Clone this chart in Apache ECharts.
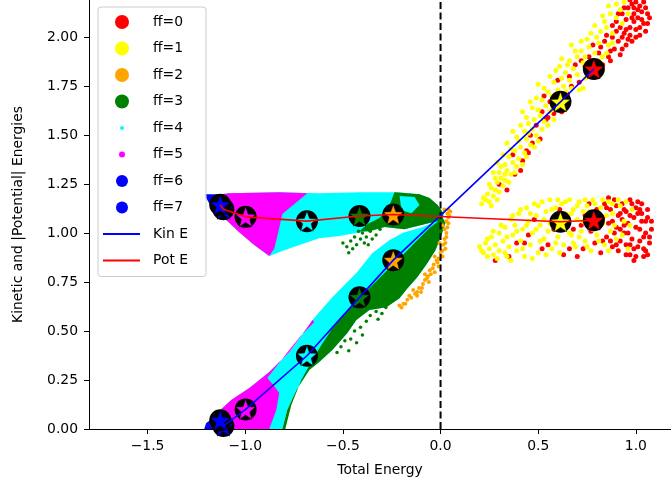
<!DOCTYPE html>
<html>
<head>
<meta charset="utf-8">
<script src="https://cdn.jsdelivr.net/npm/echarts@6/dist/echarts.min.js"></script>
<style>
  html, body { margin: 0; padding: 0; background: #fff; }
  #chart { width: 671px; height: 490px; }
</style>
</head>
<body>
<div id="chart"></div>
<script>
// Axis ranges and tick labels
const xMin = -1.8, xMax = 1.18, yMin = 0, yMax = 2.19;
const xTicks = [-1.5, -1.0, -0.5, 0.0, 0.5, 1.0];
const yTicks = [0, 0.25, 0.5, 0.75, 1.0, 1.25, 1.5, 1.75, 2.0];

// Legend categories (ff index) and their colours
const ffNames = ['ff=0', 'ff=1', 'ff=2', 'ff=3', 'ff=4', 'ff=5', 'ff=6', 'ff=7'];
const ffColors = ['#ff0000', '#ffff00', '#ffa500', '#008000', '#00ffff', '#ff00ff', '#0000ff', '#0000ff'];
const ffLegendDot = [14, 14, 14, 14, 4, 6, 12, 12];

// Mean energies per ff (star markers): total energy, kinetic, |potential|
const starTotalE = [0.785, 0.614, -0.242, -0.415, -0.684, -0.998, -1.112, -1.128];
const starKinE   = [1.838, 1.670, 0.862, 0.672, 0.374, 0.100, 0.015, 0.045];
const starPotE   = [1.066, 1.058, 1.095, 1.087, 1.061, 1.083, 1.122, 1.145];

// Dense sample clouds (outlines in data units)
const cyanUpper = [[-1.200,1.189],[-1.082,1.204],[-0.826,1.209],[-0.621,1.204],[-0.415,1.209],[-0.210,1.209],[-0.108,1.199],[-0.056,1.179],[-0.015,1.143],[0.015,1.102],[0.010,1.066],[-0.056,1.051],[-0.185,1.020],[-0.287,1.031],[-0.364,1.010],[-0.431,1.000],[-0.518,0.985],[-0.621,0.974],[-0.723,0.939],[-0.800,0.913],[-0.877,0.883],[-0.954,0.939],[-1.031,1.005],[-1.108,1.077],[-1.174,1.143]];
const greenUpper = [[-0.236,1.209],[-0.108,1.199],[-0.056,1.179],[-0.015,1.143],[0.015,1.102],[0.010,1.066],[-0.056,1.051],[-0.185,1.020],[-0.287,1.031],[-0.364,1.010],[-0.415,1.010],[-0.374,1.046],[-0.313,1.077],[-0.272,1.117],[-0.251,1.168]];
const cyanUpperPatch = [[-0.210,1.189],[-0.133,1.184],[-0.108,1.143],[-0.149,1.102],[-0.200,1.117]];
const magentaUpper = [[-1.200,1.189],[-1.082,1.204],[-0.826,1.209],[-0.682,1.204],[-0.744,1.153],[-0.810,1.097],[-0.831,1.005],[-0.851,0.923],[-0.877,0.883],[-0.954,0.939],[-1.031,1.005],[-1.108,1.077],[-1.174,1.143]];
const blueUpper = [[-1.210,1.199],[-1.123,1.199],[-1.067,1.153],[-1.082,1.102],[-1.133,1.117],[-1.185,1.153]];

const cyanLower = [[-1.200,0.000],[-1.200,0.026],[-1.144,0.082],[-1.072,0.148],[-0.979,0.209],[-0.877,0.291],[-0.774,0.393],[-0.677,0.526],[-0.656,0.556],[-0.554,0.673],[-0.431,0.796],[-0.349,0.898],[-0.262,0.964],[-0.195,1.000],[-0.092,1.031],[-0.021,1.061],[0.010,1.082],[0.026,1.056],[0.005,0.990],[-0.026,0.913],[-0.067,0.847],[-0.118,0.776],[-0.169,0.719],[-0.210,0.668],[-0.277,0.622],[-0.364,0.607],[-0.431,0.556],[-0.477,0.490],[-0.554,0.403],[-0.621,0.342],[-0.672,0.301],[-0.738,0.199],[-0.785,0.097],[-0.810,0.000]];
const greenLower = [[0.010,1.077],[-0.056,1.026],[-0.133,0.949],[-0.210,0.872],[-0.287,0.796],[-0.364,0.719],[-0.441,0.643],[-0.503,0.577],[-0.559,0.505],[-0.610,0.429],[-0.656,0.352],[-0.713,0.250],[-0.764,0.122],[-0.795,0.000],[-0.810,0.000],[-0.785,0.097],[-0.738,0.199],[-0.672,0.301],[-0.621,0.342],[-0.554,0.403],[-0.477,0.490],[-0.431,0.556],[-0.364,0.607],[-0.277,0.622],[-0.210,0.668],[-0.169,0.719],[-0.118,0.776],[-0.067,0.847],[-0.026,0.913],[0.005,0.990],[0.026,1.056]];
const magentaLower = [[-1.200,0.000],[-0.877,0.000],[-0.841,0.097],[-0.826,0.184],[-0.856,0.224],[-0.887,0.260],[-0.800,0.372],[-0.718,0.474],[-0.646,0.546],[-0.656,0.556],[-0.677,0.526],[-0.774,0.393],[-0.877,0.291],[-0.979,0.209],[-1.072,0.148],[-1.144,0.082],[-1.200,0.026]];
const blueLower = [[-1.210,0.000],[-1.092,0.000],[-1.108,0.061],[-1.159,0.056],[-1.200,0.031]];

// Sparse samples
const greenDots = [[-0.50,0.95],[-0.48,0.93],[-0.46,0.96],[-0.45,0.92],[-0.47,0.90],[-0.43,0.94],[-0.41,0.97],[-0.40,1.00],[-0.38,0.98],[-0.36,1.01],[-0.35,0.97],[-0.33,0.99],[-0.31,1.02],[-0.39,0.95],[-0.44,0.98],[-0.37,0.94],[-0.42,1.01],
  [-0.36,0.58],[-0.33,0.60],[-0.30,0.59],[-0.28,0.62],[-0.32,0.56],[-0.38,0.55],[-0.41,0.52],[-0.44,0.50],[-0.40,0.48],[-0.46,0.46],[-0.43,0.44],[-0.49,0.45],[-0.51,0.42],[-0.47,0.40],[-0.53,0.39]];
const orangeDots = [[0.03,1.06],[0.035,1.03],[0.03,1.00],[0.02,0.97],[0.015,0.94],[0.025,0.92],[0.0,0.90],[0.01,0.88],[-0.02,0.86],[-0.01,0.83],[-0.04,0.82],[-0.05,0.79],[-0.07,0.77],[-0.06,0.75],[-0.09,0.74],[-0.11,0.72],[-0.10,0.70],[-0.13,0.69],[-0.15,0.67],[-0.17,0.66],[-0.19,0.64],[-0.20,0.62],[-0.14,0.71],[-0.08,0.79],[-0.03,0.88],[0.02,1.02],[0.04,1.08],[0.035,1.10],[0.02,1.12],[0.01,1.04],[-0.005,0.95],[-0.03,0.80],[-0.12,0.68],
  [0.04,1.05],[0.03,0.98],[0.025,0.95],[0.01,0.91],[-0.01,0.87],[-0.015,0.85],[-0.035,0.84],[-0.055,0.81],[-0.065,0.78],[-0.08,0.76],[-0.095,0.72],[-0.12,0.70],[-0.16,0.68],[-0.18,0.64],[-0.21,0.63],[0.045,1.09],[0.04,1.12],[0.05,1.11]];

const yellowUpper = [[0.21,1.15],[0.23,1.17],[0.25,1.16],[0.24,1.20],[0.27,1.19],[0.28,1.22],[0.30,1.21],[0.26,1.23],
  [0.29,1.26],[0.31,1.28],[0.33,1.27],[0.30,1.31],[0.34,1.32],[0.36,1.30],[0.33,1.35],[0.37,1.36],[0.39,1.34],[0.35,1.39],[0.40,1.38],
  [0.38,1.42],[0.41,1.44],[0.43,1.41],[0.40,1.47],[0.44,1.48],[0.46,1.45],[0.43,1.52],[0.47,1.53],[0.49,1.50],[0.45,1.56],
  [0.48,1.58],[0.51,1.60],[0.53,1.57],[0.50,1.63],[0.54,1.65],[0.56,1.62],[0.52,1.68],[0.57,1.70],[0.59,1.66],[0.55,1.72],
  [0.60,1.73],[0.63,1.75],[0.58,1.77],[0.62,1.79],[0.66,1.78],[0.64,1.82],[0.68,1.84],[0.70,1.81],[0.61,1.85],
  [0.66,1.88],[0.70,1.90],[0.73,1.87],[0.72,1.93],[0.76,1.95],[0.79,1.92],[0.75,1.99],[0.80,2.00],
  [0.82,2.03],[0.85,2.05],[0.88,2.02],[0.84,2.08],[0.90,2.10],[0.93,2.07],[0.92,2.14],
  [0.73,1.74],[0.77,1.80],[0.83,1.90],[0.86,1.96],
  [0.22,1.18],[0.26,1.14],[0.29,1.17],[0.25,1.25],[0.28,1.28],[0.32,1.24],[0.27,1.31],[0.31,1.34],[0.35,1.26],[0.29,1.36],[0.38,1.31],[0.42,1.35],[0.32,1.40],[0.36,1.43],[0.44,1.39],[0.34,1.46],[0.39,1.49],[0.48,1.44],[0.37,1.52],[0.41,1.55],[0.50,1.47],[0.52,1.53],[0.44,1.59],[0.42,1.62],[0.47,1.64],[0.55,1.55],[0.58,1.58],[0.49,1.69],[0.46,1.67],[0.53,1.74],[0.61,1.69],[0.64,1.72],[0.50,1.76],[0.56,1.80],[0.59,1.83],[0.67,1.74],[0.71,1.73],[0.74,1.79],[0.65,1.86],[0.62,1.89],[0.69,1.93],[0.78,1.83],[0.81,1.88],[0.67,1.96],[0.72,1.98],[0.77,2.02],[0.85,1.92],[0.88,1.97],[0.79,2.06],[0.83,2.11],[0.87,2.12],[0.86,2.16],[0.90,2.17],[0.94,2.18],[0.96,2.12],[0.81,1.97],[0.74,1.90],[0.57,1.63],[0.45,1.51],[0.33,1.30]];
const redUpper = [[0.34,1.22],[0.38,1.30],[0.42,1.37],[0.45,1.41],[0.47,1.46],[0.51,1.48],[0.49,1.55],[0.55,1.59],[0.58,1.61],[0.53,1.70],[0.62,1.62],[0.65,1.71],[0.67,1.75],[0.71,1.77],[0.69,1.86],[0.74,1.85],[0.76,1.90],[0.80,1.85],[0.82,1.95],[0.84,1.98],[0.87,1.93],[0.88,2.06],[0.90,2.03],[0.91,1.98],[0.93,2.12],[0.95,2.09],[0.96,2.15],[0.98,2.17],[1.00,2.18],[1.02,2.16],[0.99,2.12],[1.01,2.10],[1.03,2.13],[0.97,2.05],[0.94,2.02],[1.04,2.07],[0.98,1.98],[0.95,1.96],[1.05,2.03],[0.92,1.91],[0.87,1.88],[0.90,2.08],[1.06,2.12],[1.00,2.04],[0.93,2.00],
  [0.30,1.25],[0.37,1.40],[0.41,1.32],[0.46,1.50],[0.52,1.62],[0.56,1.67],[0.60,1.78],[0.63,1.68],[0.72,1.88],[0.78,1.96],[0.83,1.86],[0.85,2.01],[0.89,1.94],[0.92,2.05],[0.94,2.15],[0.97,2.01],[0.99,2.08],[1.01,2.14],[1.03,2.09],[1.05,2.15],[1.02,2.05],[0.96,1.99],[0.99,2.15],[1.04,2.18],[0.91,2.12],[0.97,2.19],[1.06,2.07],[1.00,2.00],[0.88,2.00],[0.81,1.92],[0.95,2.04],[0.98,2.10],[1.02,2.01],[0.86,1.90],[0.75,1.82],[0.66,1.80],[0.44,1.42],[0.54,1.58],[1.07,2.10],[0.93,1.94]];
const yellowLower = [[0.20,0.93],[0.22,0.90],[0.23,0.95],[0.25,0.92],[0.26,0.98],[0.27,0.89],[0.28,0.94],[0.30,1.00],[0.30,0.91],[0.32,0.96],[0.33,1.03],[0.34,0.88],[0.35,0.93],[0.36,1.07],[0.37,0.99],[0.38,1.04],[0.39,0.91],[0.40,1.10],[0.41,0.96],[0.42,1.02],[0.43,0.88],[0.44,1.13],[0.45,1.06],[0.46,0.94],[0.47,1.00],[0.48,1.15],[0.49,1.09],[0.50,0.90],[0.51,1.04],[0.52,1.16],[0.53,0.97],[0.54,1.11],[0.55,1.01],[0.56,1.17],[0.57,0.92],[0.58,1.08],[0.59,1.13],[0.60,0.98],[0.61,1.03],[0.62,1.15],[0.63,0.94],[0.64,1.10],[0.65,1.05],[0.66,1.17],[0.67,0.99],[0.68,1.12],[0.69,0.93],[0.70,1.07],[0.71,1.16],[0.72,1.01],[0.73,1.11],[0.74,0.96],[0.75,1.14],[0.76,1.04],[0.77,0.91],[0.78,1.17],[0.79,1.09],[0.80,0.99],[0.82,1.13],[0.83,1.05],[0.84,0.94],[0.86,1.16],[0.87,1.01],[0.88,1.10],[0.90,0.97],[0.92,1.14],[0.94,1.06],[0.96,0.92],[0.98,1.12],
  [0.21,0.91],[0.24,0.88],[0.24,0.97],[0.27,1.01],[0.29,0.87],[0.31,1.04],[0.33,0.90],[0.34,0.98],[0.36,0.86],[0.37,1.09],[0.39,1.01],[0.41,1.12],[0.42,0.92],[0.44,1.04],[0.46,1.10],[0.47,0.87],[0.49,1.02],[0.50,1.14],[0.51,0.96],[0.53,1.07],[0.54,0.89],[0.56,1.05],[0.57,1.12],[0.59,0.95],[0.60,1.17],[0.61,0.90],[0.63,1.07],[0.64,1.16],[0.66,1.00],[0.67,1.10],[0.68,0.95],[0.70,1.14],[0.71,0.98],[0.73,1.06],[0.74,1.17],[0.75,0.93],[0.76,1.11],[0.78,1.02],[0.79,1.15],[0.81,0.96],[0.81,1.07],[0.83,1.17],[0.85,1.09],[0.86,0.91],[0.88,1.15],[0.89,1.04],[0.91,1.17],[0.93,0.99],[0.95,1.16],[0.97,1.04]];
const redLower = [[0.35,0.88],[0.39,0.95],[0.45,0.99],[0.52,0.92],[0.58,1.02],[0.63,0.89],[0.66,0.92],[0.70,0.88],[0.72,1.04],[0.74,1.09],[0.77,1.01],[0.79,0.95],[0.80,1.12],[0.82,0.90],[0.83,1.08],[0.84,1.15],[0.85,0.98],[0.86,1.05],[0.87,1.12],[0.88,0.93],[0.89,1.17],[0.90,1.03],[0.91,1.09],[0.92,0.96],[0.93,1.15],[0.94,1.00],[0.95,1.11],[0.96,1.05],[0.97,0.89],[0.97,1.17],[0.98,0.97],[0.99,1.08],[1.00,1.13],[1.01,0.93],[1.02,1.02],[1.03,1.10],[1.04,0.88],[1.04,0.98],[1.05,1.06],[1.06,1.12],[1.07,0.95],[1.08,1.02],[0.99,0.86],[1.05,0.91],[0.93,1.07],[0.89,1.00],[1.01,1.16],[0.95,0.94],
  [0.28,0.86],[0.43,0.95],[0.48,1.07],[0.55,0.94],[0.61,1.12],[0.68,1.02],[0.73,0.92],[0.76,1.15],[0.81,1.03],[0.83,0.96],[0.85,1.13],[0.87,0.96],[0.88,1.06],[0.90,1.14],[0.91,0.91],[0.92,1.02],[0.94,1.12],[0.95,0.89],[0.96,1.00],[0.97,1.09],[0.98,1.15],[0.99,0.92],[1.00,1.03],[1.01,1.10],[1.02,0.96],[1.03,1.06],[1.03,1.15],[1.04,0.92],[1.05,1.00],[1.06,1.08],[1.07,0.98],[1.06,0.89],[1.08,1.06],[1.00,0.88],[0.97,0.94],[0.94,1.04],[0.92,1.10],[1.02,1.12],[0.90,0.94],[0.86,1.18]];

const FONT = 'DejaVu Sans';

// five-pointed star outline for the mean markers
function starSymbol() {
  const pts = [];
  for (let i = 0; i < 10; i++) {
    const a = (-90 + i * 36) * Math.PI / 180;
    const r = i % 2 ? 42 : 100;
    pts.push((100 + r * Math.cos(a)).toFixed(2) + ' ' + (100 + r * Math.sin(a)).toFixed(2));
  }
  return 'path://M' + pts.join(' L') + ' Z';
}
// legend glyphs share one 45x14 box so the text lines up
function dotIcon(d) {
  const r = d / 2, cx = 19, cy = 7;
  return 'path://M0 0 M45 14 M' + (cx - r) + ' ' + cy + ' A' + r + ' ' + r + ' 0 1 1 ' + (cx + r) + ' ' + cy +
    ' A' + r + ' ' + r + ' 0 1 1 ' + (cx - r) + ' ' + cy + ' Z';
}
const lineIcon = 'path://M0 0 M45 14 M0 6 H37 V8 H0 Z';

// one filled outline per series, projected through the cartesian axes
function region(name, color, outline) {
  return {
    type: 'custom', name: name, coordinateSystem: 'cartesian2d',
    data: [outline[0]], encode: { x: 0, y: 1 }, clip: true, silent: true,
    itemStyle: { color: color },
    renderItem: function (params, api) {
      const pts = [];
      for (let k = 0; k < outline.length; k++) pts.push(api.coord([outline[k][0], outline[k][1]]));
      return { type: 'polygon', shape: { points: pts }, style: { fill: color, stroke: null } };
    }
  };
}
function dots(name, color, pts, size) {
  return { type: 'scatter', name: name, data: pts, symbol: 'circle', symbolSize: size, silent: true,
    itemStyle: { color: color, opacity: 1 } };
}

const series = [];
series.push(dots('ff=0', ffColors[0], redUpper, 5));
series.push(dots('ff=0', ffColors[0], redLower, 5));
series.push(dots('ff=1', ffColors[1], yellowUpper, 5));
series.push(dots('ff=1', ffColors[1], yellowLower, 5));
series.push(dots('ff=2', ffColors[2], orangeDots, 4));
series.push(dots('ff=3', ffColors[3], greenDots, 3.5));
series.push(region('ff=4', ffColors[4], cyanUpper));
series.push(region('ff=4', ffColors[4], cyanLower));
series.push(region('ff=3', ffColors[3], greenUpper));
series.push(region('ff=4', ffColors[4], cyanUpperPatch));
series.push(region('ff=3', ffColors[3], greenLower));
series.push(region('ff=5', ffColors[5], magentaUpper));
series.push(region('ff=5', ffColors[5], magentaLower));
series.push(region('ff=6', ffColors[6], blueLower));
series.push(region('ff=7', ffColors[7], blueUpper));

// zero total-energy divider
series.push({ type: 'line', name: 'zero', data: [[0, yMin], [0, yMax]], symbol: 'none', silent: true,
  lineStyle: { color: '#000', width: 2, type: [7, 3.5] } });

series.push({ type: 'line', name: 'Kin E', data: starTotalE.map((x, i) => [x, starKinE[i]]), symbol: 'none',
  silent: true, itemStyle: { color: '#0000ff' }, lineStyle: { color: '#0000ff', width: 1.6 } });
series.push({ type: 'line', name: 'Pot E', data: starTotalE.map((x, i) => [x, starPotE[i]]), symbol: 'none',
  silent: true, itemStyle: { color: '#ff0000' }, lineStyle: { color: '#ff0000', width: 1.6 } });

const star = starSymbol();
for (let i = 0; i < ffNames.length; i++) {
  const pts = [[starTotalE[i], starKinE[i]], [starTotalE[i], starPotE[i]]];
  series.push({ type: 'scatter', name: 'mean-bg-' + i, data: pts, symbol: 'circle', symbolSize: 22, silent: true,
    itemStyle: { color: '#000', opacity: 1 } });
  series.push({ type: 'scatter', name: 'mean-' + i, data: pts, symbol: star, symbolSize: 20, silent: true,
    itemStyle: { color: ffColors[i], borderColor: '#000', borderWidth: 0.5, opacity: 1 } });
}

const legendData = ffNames.map((n, i) => ({ name: n, icon: dotIcon(ffLegendDot[i]), itemStyle: { color: ffColors[i], opacity: 1 } }));
legendData.push({ name: 'Kin E', icon: lineIcon, itemStyle: { color: '#0000ff', opacity: 1 } });
legendData.push({ name: 'Pot E', icon: lineIcon, itemStyle: { color: '#ff0000', opacity: 1 } });

const chart = echarts.init(document.getElementById('chart'), null, { renderer: 'canvas' });
chart.setOption({
  backgroundColor: '#ffffff',
  animation: false,
  textStyle: { fontFamily: FONT },
  grid: { left: 89, right: 0, top: 0, bottom: 61, containLabel: false },
  legend: {
    orient: 'vertical', left: 98, top: 7, padding: [8, 18, 9, 5],
    itemWidth: 45, itemHeight: 14, itemGap: 12.5, selectedMode: false,
    backgroundColor: 'rgba(255,255,255,0.8)', borderColor: '#cccccc', borderWidth: 1, borderRadius: 3,
    itemStyle: { borderWidth: 0 },
    textStyle: { fontFamily: FONT, fontSize: 13.9, color: '#000', lineHeight: 14 },
    data: legendData
  },
  xAxis: {
    type: 'value', min: xMin, max: xMax,
    name: 'Total Energy', nameLocation: 'middle', nameGap: 34,
    nameTextStyle: { fontFamily: FONT, fontSize: 13.9, color: '#000' },
    axisLine: { show: true, onZero: false, lineStyle: { color: '#000', width: 1 } },
    axisTick: { show: true, inside: false, length: 5, customValues: xTicks, lineStyle: { color: '#000' } },
    axisLabel: { customValues: xTicks, margin: 10, fontFamily: FONT, fontSize: 13.9, color: '#000',
      formatter: v => (v < 0 ? '\u2212' : '') + Math.abs(v).toFixed(1) },
    splitLine: { show: false }
  },
  yAxis: {
    type: 'value', min: yMin, max: yMax,
    name: 'Kinetic and |Potential| Energies', nameLocation: 'middle', nameGap: 64,
    nameTextStyle: { fontFamily: FONT, fontSize: 13.9, color: '#000' },
    axisLine: { show: true, onZero: false, lineStyle: { color: '#000', width: 1 } },
    axisTick: { show: true, inside: false, length: 5, customValues: yTicks, lineStyle: { color: '#000' } },
    axisLabel: { customValues: yTicks, margin: 11, fontFamily: FONT, fontSize: 13.9, color: '#000',
      formatter: v => v.toFixed(2) },
    splitLine: { show: false }
  },
  series: series
});
</script>
</body>
</html>
